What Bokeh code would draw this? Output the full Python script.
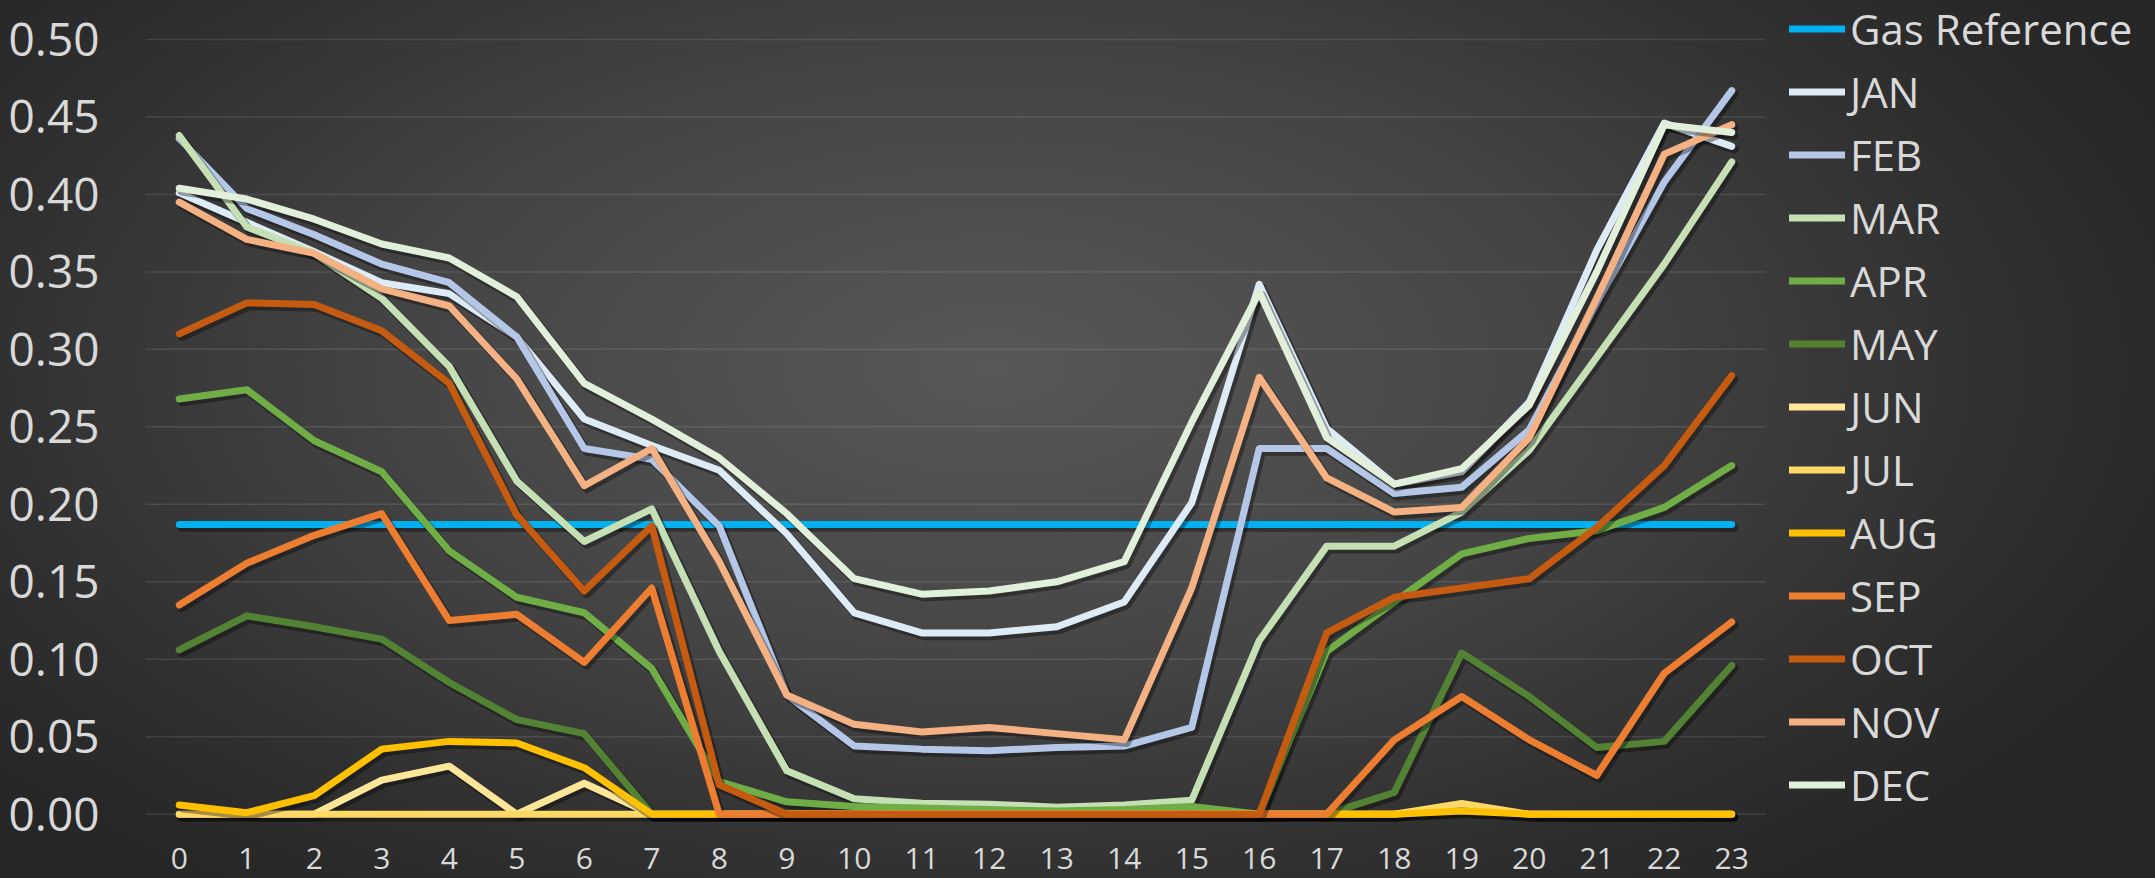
from bokeh.plotting import figure
from bokeh.models import (ColumnDataSource, Legend, LegendItem, FixedTicker,
                          NumeralTickFormatter, Range1d, GlobalInlineStyleSheet)
from bokeh.embed import file_html
from bokeh.resources import INLINE

# ---------------- data ----------------
hours = list(range(24))
hour_labels = [str(h) for h in hours]
y_ticks = [0.0, 0.05, 0.10, 0.15, 0.20, 0.25, 0.30, 0.35, 0.40, 0.45, 0.50]

gas = [0.187, 0.187, 0.187, 0.187, 0.187, 0.187, 0.187, 0.187, 0.187, 0.187, 0.187, 0.187,
       0.187, 0.187, 0.187, 0.187, 0.187, 0.187, 0.187, 0.187, 0.187, 0.187, 0.187, 0.187]
jan = [0.401, 0.382, 0.363, 0.343, 0.336, 0.308, 0.255, 0.238, 0.222, 0.181, 0.130, 0.117,
       0.117, 0.121, 0.137, 0.201, 0.342, 0.249, 0.213, 0.221, 0.266, 0.364, 0.446, 0.431]
feb = [0.436, 0.391, 0.374, 0.355, 0.343, 0.308, 0.236, 0.229, 0.186, 0.077, 0.044, 0.042,
       0.041, 0.043, 0.044, 0.056, 0.236, 0.236, 0.207, 0.211, 0.248, 0.330, 0.408, 0.467]
mar = [0.438, 0.379, 0.362, 0.333, 0.289, 0.215, 0.176, 0.197, 0.105, 0.028, 0.010, 0.007,
       0.0065, 0.0045, 0.006, 0.009, 0.112, 0.173, 0.173, 0.195, 0.235, 0.295, 0.355, 0.421]
apr = [0.268, 0.274, 0.241, 0.221, 0.170, 0.140, 0.130, 0.094, 0.021, 0.008, 0.005, 0.004,
       0.003, 0.002, 0.003, 0.005, 0.0, 0.105, 0.137, 0.168, 0.178, 0.183, 0.198, 0.225]
may = [0.106, 0.128, 0.121, 0.113, 0.085, 0.061, 0.052, 0.0, 0.0, 0.0, 0.0, 0.0,
       0.0, 0.0, 0.0, 0.0, 0.0, 0.0, 0.014, 0.104, 0.076, 0.043, 0.047, 0.096]
jun = [0.0, 0.0, 0.0, 0.022, 0.031, 0.0, 0.020, 0.0, 0.0, 0.0, 0.0, 0.0,
       0.0, 0.0, 0.0, 0.0, 0.0, 0.0, 0.0, 0.003, 0.0, 0.0, 0.0, 0.0]
jul = [0.0, 0.0, 0.0, 0.0, 0.0, 0.0, 0.0, 0.0, 0.0, 0.0, 0.0, 0.0,
       0.0, 0.0, 0.0, 0.0, 0.0, 0.0, 0.0, 0.007, 0.0, 0.0, 0.0, 0.0]
aug = [0.006, 0.001, 0.012, 0.042, 0.047, 0.046, 0.030, 0.0, 0.0, 0.0, 0.0, 0.0,
       0.0, 0.0, 0.0, 0.0, 0.0, 0.0, 0.0, 0.002, 0.0, 0.0, 0.0, 0.0]
sep = [0.135, 0.162, 0.180, 0.194, 0.125, 0.129, 0.098, 0.146, 0.0, 0.0, 0.0, 0.0,
       0.0, 0.0, 0.0, 0.0, 0.0, 0.0, 0.048, 0.076, 0.048, 0.025, 0.091, 0.124]
oct_ = [0.310, 0.330, 0.329, 0.312, 0.278, 0.193, 0.144, 0.186, 0.019, 0.0, 0.0, 0.0,
        0.0, 0.0, 0.0, 0.0, 0.0, 0.117, 0.140, 0.146, 0.152, 0.185, 0.225, 0.283]
nov = [0.395, 0.371, 0.362, 0.339, 0.328, 0.281, 0.212, 0.236, 0.163, 0.077, 0.058, 0.053,
       0.056, 0.052, 0.048, 0.146, 0.282, 0.217, 0.195, 0.198, 0.243, 0.333, 0.426, 0.445]
dec = [0.404, 0.397, 0.384, 0.368, 0.359, 0.334, 0.278, 0.255, 0.230, 0.194, 0.152, 0.142,
       0.144, 0.150, 0.163, 0.253, 0.337, 0.243, 0.213, 0.223, 0.264, 0.350, 0.445, 0.440]

series_names = ["Gas Reference", "JAN", "FEB", "MAR", "APR", "MAY", "JUN",
                "JUL", "AUG", "SEP", "OCT", "NOV", "DEC"]
series_values = [gas, jan, feb, mar, apr, may, jun, jul, aug, sep, oct_, nov, dec]
series_colors = ["#00B0F0", "#DDEBF7", "#B4C7E7", "#C5E0B4", "#70AD47", "#548235", "#FFE699",
                 "#FFD966", "#FFC000", "#ED7D31", "#C55A11", "#F4B183", "#E2EFDA"]

# ---------------- layout constants (pixels) ----------------
W, H = 2155, 878
LEFT = 145            # left border (y labels)
BOTTOM = 55           # bottom border (x labels)
PX_PER_HOUR = 67.5
PX_PER_UNIT = 1550.0
FONT = "Open Sans"
TXT = "#D9D9D9"

# the chart area spans hours -0.5 .. 23.5; the frame is widened to hold the legend
X0, X1 = -0.5, 23.5
XEND = X0 + (W - LEFT) / PX_PER_HOUR
Y0 = -0.006
YTOP = 0.5
YEND = YTOP + 39 / PX_PER_UNIT

p = figure(width=W, height=H, output_backend="svg", toolbar_location=None,
           x_range=Range1d(X0, XEND), y_range=Range1d(Y0, YEND),
           min_border_left=LEFT, min_border_right=0, min_border_top=0,
           min_border_bottom=BOTTOM)

dx = 2.5 / PX_PER_HOUR
dy = 3.0 / PX_PER_UNIT
p.extra_x_ranges = {"shadow_x": Range1d(X0 - dx, XEND - dx)}
p.extra_y_ranges = {"shadow_y": Range1d(Y0 + dy, YEND + dy)}

p.background_fill_color = None
p.border_fill_color = None
p.outline_line_color = None
p.styles = {"background": "radial-gradient(ellipse 60% 75% at 46% 42%, #585858 0%, #454545 45%, #2f2f2f 80%, #262626 100%)"}
p.stylesheets = [GlobalInlineStyleSheet(css="html, body { background: #282828; margin: 0; }")]

p.xgrid.grid_line_color = None
p.ygrid.grid_line_color = None

# horizontal gridlines only across the hour span
p.segment(x0=[X0] * len(y_ticks), x1=[X1] * len(y_ticks), y0=y_ticks, y1=y_ticks,
          line_color="#FFFFFF", line_alpha=0.10, line_width=1.5)

p.xaxis.ticker = FixedTicker(ticks=hours)
p.xaxis.major_label_overrides = {h: s for h, s in zip(hours, hour_labels)}
p.yaxis.ticker = FixedTicker(ticks=y_ticks)
p.yaxis.formatter = NumeralTickFormatter(format="0.00")

for ax in (p.xaxis, p.yaxis):
    ax.axis_line_color = None
    ax.major_tick_line_color = None
    ax.minor_tick_line_color = None
    ax.major_tick_out = 0
    ax.major_tick_in = 0
    ax.minor_tick_out = 0
    ax.major_label_text_color = TXT
    ax.major_label_text_font = FONT

p.yaxis.major_label_text_font_size = "46px"
p.yaxis.major_label_standoff = 46
p.xaxis.major_label_text_font_size = "30px"
p.xaxis.major_label_standoff = 24

items = []
for name, vals, col in zip(series_names, series_values, series_colors):
    src = ColumnDataSource(dict(x=hours, y=vals))
    p.line("x", "y", source=src, line_color="#000000", line_alpha=0.35, line_width=8.5,
           line_cap="round", line_join="round",
           x_range_name="shadow_x", y_range_name="shadow_y")
    r = p.line("x", "y", source=src, line_color=col, line_width=7,
               line_cap="round", line_join="round")
    items.append(LegendItem(label=name, renderers=[r]))

legend = Legend(items=items, location=(1644, 10))
legend.label_text_font = FONT
legend.label_text_font_size = "42px"
legend.label_text_color = TXT
legend.glyph_width = 56
legend.glyph_height = 57
legend.label_height = 57
legend.label_standoff = 5
legend.spacing = 6
legend.padding = 0
legend.margin = 0
legend.border_line_color = None
legend.background_fill_alpha = 0
legend.inactive_fill_alpha = 0
p.add_layout(legend, "center")

open("out.html", "w").write(file_html(p, INLINE))
